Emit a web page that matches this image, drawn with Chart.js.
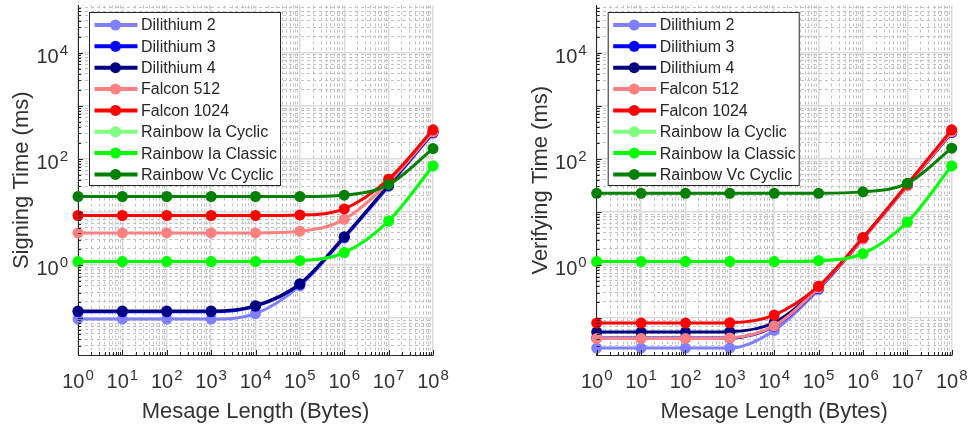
<!DOCTYPE html>
<html>
<head>
<meta charset="utf-8">
<script src="https://cdn.jsdelivr.net/npm/chart.js@4.4.0/dist/chart.umd.min.js"></script>
<style>
  html, body { margin: 0; padding: 0; background: #fff; }
  #wrap { position: relative; width: 970px; height: 429px; }
  canvas { position: absolute; top: 0; }
</style>
</head>
<body>
<div id="wrap">
  <canvas id="signChart" width="485" height="429" style="left:0"></canvas>
  <canvas id="verifyChart" width="485" height="429" style="left:485px"></canvas>
</div>
<script>
// Message lengths (bytes) on the x axis
const messageLengths = [1, 10, 100, 1e3, 1e4, 1e5, 1e6, 1e7, 1e8];
const xExponents = [0, 1, 2, 3, 4, 5, 6, 7, 8];
const yExponents = [0, 2, 4];

const schemeNames = ["Dilithium 2", "Dilithium 3", "Dilithium 4", "Falcon 512", "Falcon 1024",
                     "Rainbow Ia Cyclic", "Rainbow Ia Classic", "Rainbow Vc Cyclic"];
const schemeColors = ["#8080ff", "#0000ff", "#000080", "#ff8080", "#ff0000", "#80ff80", "#00ff00", "#008000"];

// Signing time (ms)
const signDilithium2 = [0.095, 0.095, 0.095, 0.095, 0.12, 0.40, 3.2, 30, 300];
const signDilithium3 = [0.13, 0.13, 0.13, 0.13, 0.165, 0.43, 3.3, 31, 310];
const signDilithium4 = [0.135, 0.135, 0.135, 0.135, 0.17, 0.44, 3.4, 32, 320];
const signFalcon512 = [4.0, 4.0, 4.0, 4.0, 4.0, 4.3, 7.2, 36, 320];
const signFalcon1024 = [8.5, 8.5, 8.5, 8.5, 8.5, 8.7, 11.3, 41, 350];
const signRainbowIaCyclic = [1.15, 1.15, 1.15, 1.15, 1.15, 1.2, 1.7, 6.7, 73];
const signRainbowIaClassic = [1.15, 1.15, 1.15, 1.15, 1.15, 1.2, 1.7, 6.7, 73];
const signRainbowVcCyclic = [19.4, 19.4, 19.4, 19.4, 19.4, 19.4, 20.5, 32.5, 155];

// Verifying time (ms)
const verDilithium2 = [0.027, 0.027, 0.027, 0.027, 0.058, 0.34, 3.1, 31, 310];
const verDilithium3 = [0.042, 0.042, 0.042, 0.042, 0.07, 0.36, 3.1, 31, 310];
const verDilithium4 = [0.054, 0.054, 0.054, 0.055, 0.082, 0.38, 3.2, 32, 320];
const verFalcon512 = [0.041, 0.041, 0.041, 0.042, 0.071, 0.37, 3.1, 31, 320];
const verFalcon1024 = [0.080, 0.080, 0.080, 0.081, 0.113, 0.395, 3.26, 33, 350];
const verRainbowIaCyclic = [1.15, 1.15, 1.15, 1.15, 1.15, 1.2, 1.62, 6.4, 73];
const verRainbowIaClassic = [1.15, 1.15, 1.15, 1.15, 1.15, 1.2, 1.62, 6.4, 73];
const verRainbowVcCyclic = [22.3, 22.3, 22.3, 22.3, 22.3, 22.3, 23.7, 34.3, 158];

const FONT = '"Liberation Sans", Arial, sans-serif';
const TEXT = "#333333";

function isMajor(v) {
    const l = Math.log10(v);
    return Math.abs(l - Math.round(l)) < 1e-9;
}
function isNice(v) {
    const m = v / Math.pow(10, Math.floor(Math.log10(v) + 1e-9));
    return Math.abs(m - Math.round(m)) < 1e-6;
}

// draws "10" with a raised exponent
function powLabel(ctx, x, y, exp, align) {
    ctx.font = "20px " + FONT;
    const baseW = ctx.measureText("10").width;
    ctx.font = "15px " + FONT;
    const expW = ctx.measureText(String(exp)).width;
    const total = baseW + 1 + expW;
    const left = align === "center" ? x - total / 2 : x - total;
    ctx.font = "20px " + FONT;
    ctx.fillText("10", left, y);
    ctx.font = "15px " + FONT;
    ctx.fillText(String(exp), left + baseW + 1, y - 8);
}

// tick labels, inner tick marks and boxed legend
const decorations = {
    id: "decorations",
    afterDraw(chart) {
        const { ctx, chartArea } = chart;
        const xs = chart.scales.x, ys = chart.scales.y;
        ctx.save();

        // inner tick marks
        ctx.strokeStyle = "#262626";
        ctx.lineWidth = 1;
        ctx.beginPath();
        ys.ticks.forEach(t => {
            if (!isNice(t.value)) return;
            const y = Math.round(ys.getPixelForValue(t.value)) + 0.5;
            const len = isMajor(t.value) ? 5 : 3;
            ctx.moveTo(chartArea.left, y);
            ctx.lineTo(chartArea.left + len, y);
        });
        xs.ticks.forEach(t => {
            if (!isNice(t.value)) return;
            const x = Math.round(xs.getPixelForValue(t.value)) + 0.5;
            const len = isMajor(t.value) ? 5 : 3;
            ctx.moveTo(x, chartArea.bottom);
            ctx.lineTo(x, chartArea.bottom - len);
        });
        ctx.stroke();

        // tick labels
        ctx.fillStyle = TEXT;
        ctx.textBaseline = "alphabetic";
        ctx.textAlign = "left";
        xExponents.forEach(e => {
            powLabel(ctx, xs.getPixelForValue(Math.pow(10, e)), chartArea.bottom + 33, e, "center");
        });
        yExponents.forEach(e => {
            powLabel(ctx, chartArea.left - 10, ys.getPixelForValue(Math.pow(10, e)) + 10, e, "right");
        });

        // legend
        const x0 = chartArea.left + 11.5, y0 = 12.5, w = 191, h = 173, row = 21.35;
        ctx.fillStyle = "#ffffff";
        ctx.fillRect(x0, y0, w, h);
        ctx.strokeStyle = "#262626";
        ctx.lineWidth = 1;
        ctx.strokeRect(x0, y0, w, h);
        chart.data.datasets.forEach((ds, i) => {
            const cy = y0 + 12.5 + i * row;
            ctx.strokeStyle = ds.borderColor;
            ctx.lineWidth = 4;
            ctx.beginPath();
            ctx.moveTo(x0 + 5, cy);
            ctx.lineTo(x0 + 48, cy);
            ctx.stroke();
            ctx.fillStyle = ds.borderColor;
            ctx.beginPath();
            ctx.arc(x0 + 26, cy, 5.5, 0, 2 * Math.PI);
            ctx.fill();
            ctx.fillStyle = "#262626";
            ctx.font = "16px " + FONT;
            ctx.textBaseline = "middle";
            ctx.fillText(ds.label, x0 + 51.5, cy + 1);
        });
        ctx.restore();
    }
};

function makeDatasets(seriesList) {
    return seriesList.map((vals, i) => ({
        label: schemeNames[i],
        data: messageLengths.map((x, j) => ({ x: x, y: vals[j] })),
        borderColor: schemeColors[i],
        backgroundColor: schemeColors[i],
        borderWidth: 3,
        pointRadius: 5.5,
        pointHoverRadius: 5.5,
        pointBorderWidth: 0,
        cubicInterpolationMode: "monotone",
        clip: false,
        order: seriesList.length - i
    }));
}

const gridOpts = {
    drawTicks: false,
    lineWidth: c => (c.tick && isMajor(c.tick.value)) ? 1.5 : 1,
    color: c => {
        if (!c.tick) return "rgba(0,0,0,0)";
        if (isMajor(c.tick.value)) return "#dcdcdc";
        return isNice(c.tick.value) ? "#c2c2c2" : "rgba(0,0,0,0)";
    }
};
const borderOpts = {
    color: "#262626",
    width: 1,
    dash: c => (c.tick && !isMajor(c.tick.value)) ? [3, 3] : []
};

function makeChart(canvasId, seriesList, yTitle, padding) {
    return new Chart(document.getElementById(canvasId), {
        type: "line",
        data: { datasets: makeDatasets(seriesList) },
        options: {
            responsive: false,
            animation: false,
            layout: { padding: padding },
            plugins: { legend: { display: false }, tooltip: { enabled: false } },
            scales: {
                x: {
                    type: "logarithmic",
                    min: 1,
                    max: 1e8,
                    ticks: { display: false, autoSkip: false },
                    grid: gridOpts,
                    border: borderOpts,
                    title: {
                        display: true,
                        text: "Mesage Length (Bytes)",
                        color: TEXT,
                        font: { family: FONT, size: 22 },
                        padding: { top: 0, bottom: 4 }
                    },
                    afterFit: s => { s.height = 74; }
                },
                y: {
                    type: "logarithmic",
                    min: 0.02,
                    max: 77000,
                    ticks: { display: false, autoSkip: false },
                    grid: gridOpts,
                    border: borderOpts,
                    title: {
                        display: true,
                        text: yTitle,
                        color: TEXT,
                        font: { family: FONT, size: 22 },
                        padding: { top: 9, bottom: 0 }
                    },
                    afterFit: s => { s.width = 78; }
                }
            }
        },
        plugins: [decorations]
    });
}

makeChart("signChart",
    [signDilithium2, signDilithium3, signDilithium4, signFalcon512, signFalcon1024,
     signRainbowIaCyclic, signRainbowIaClassic, signRainbowVcCyclic],
    "Signing Time (ms)", { left: 0, right: 52, top: 0, bottom: 0 });

makeChart("verifyChart",
    [verDilithium2, verDilithium3, verDilithium4, verFalcon512, verFalcon1024,
     verRainbowIaCyclic, verRainbowIaClassic, verRainbowVcCyclic],
    "Verifying Time (ms)", { left: 33.7, right: 18.3, top: 0, bottom: 0 });
</script>
</body>
</html>
